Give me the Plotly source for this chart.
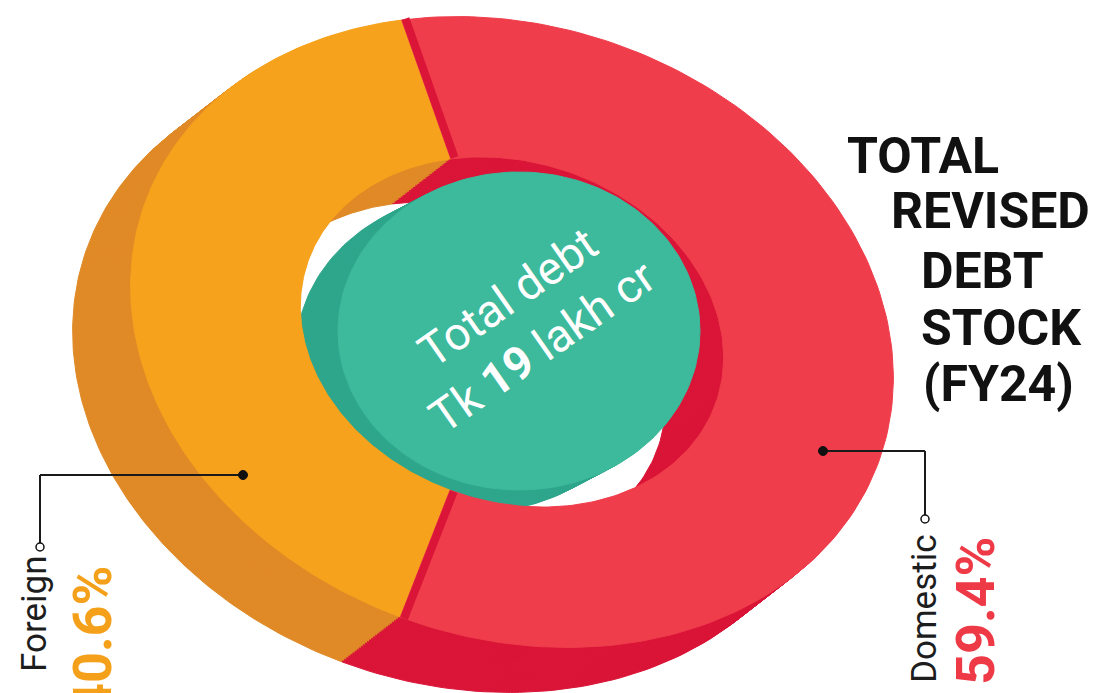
import numpy as np
import plotly.graph_objects as go

# ---- data -------------------------------------------------------------
categories = ["Foreign", "Domestic"]
shares = [40.6, 59.4]                 # share of total revised debt stock, %
total_debt = 19                       # Tk lakh crore
title_lines = ["TOTAL", "REVISED", "DEBT", "STOCK", "(FY24)"]

# ---- styling ----------------------------------------------------------
top_colors = ["#F6A21C", "#EF3D4B"]
side_colors = ["#E08A27", "#DA1538"]
label_colors = ["#F5A01A", "#EE3A46"]
teal_top, teal_side = "#3DB99B", "#2EA68C"
FONT = "Roboto, Liberation Sans, sans-serif"

W, H = 1094, 693
CX, CY = 512, 332           # ring centre (px)
RX, RY = 389, 306           # outer semi-axes of the top face
TILT = np.deg2rad(18.6)     # in-plane tilt of the ellipse
HOLE = 0.555                # inner / outer radius
DEPTH = np.array([-58.0, 45.0])   # extrusion of the ring (px)
START = np.deg2rad(92.2)    # where the first slice begins
N_LAYERS = 28


def ring_pt(r, th):
    x = RX * r * np.cos(th)
    y = RY * r * np.sin(th)
    return (CX + x * np.cos(TILT) - y * np.sin(TILT),
            CY + x * np.sin(TILT) + y * np.cos(TILT))


def sector(th0, th1, shift=(0.0, 0.0), n=160):
    t = np.linspace(th0, th1, n)
    xo, yo = ring_pt(1.0, t)
    xi, yi = ring_pt(HOLE, t[::-1])
    xs = np.concatenate([xo, xi, xo[:1]]) + shift[0]
    ys = np.concatenate([yo, yi, yo[:1]]) + shift[1]
    return xs, ys


def ellipse(cx, cy, a, b, rot_deg, n=200):
    t = np.linspace(0, 2 * np.pi, n)
    r = np.deg2rad(rot_deg)
    x, y = a * np.cos(t), b * np.sin(t)
    return cx + x * np.cos(r) - y * np.sin(r), cy + x * np.sin(r) + y * np.cos(r)


def poly(xs, ys, color):
    return go.Scatter(x=xs, y=ys, mode="lines", fill="toself", fillcolor=color,
                      line=dict(color=color, width=1), hoverinfo="skip",
                      showlegend=False)


# slice angles from the shares
fr = np.array(shares) / sum(shares)
edges = START + 2 * np.pi * np.concatenate([[0], np.cumsum(fr)])

fig = go.Figure()

# extruded side walls: stacked copies from the bottom face up
for k in range(N_LAYERS, 0, -1):
    off = DEPTH * k / N_LAYERS
    for i in range(len(shares)):
        xs, ys = sector(edges[i], edges[i + 1], off)
        fig.add_trace(poly(xs, ys, side_colors[i]))

# centre coin with its own thickness
TC = (519, 331)
TA, TB, TROT = 181, 159, 0
COIN_DEPTH = (-42, 22)
for k in range(12, 0, -1):
    xs, ys = ellipse(TC[0] + COIN_DEPTH[0] * k / 12, TC[1] + COIN_DEPTH[1] * k / 12,
                     TA, TB, TROT)
    fig.add_trace(poly(xs, ys, teal_side))
xs, ys = ellipse(TC[0], TC[1], TA, TB, TROT)
fig.add_trace(poly(xs, ys, teal_top))

# top faces
for i in range(len(shares)):
    xs, ys = sector(edges[i], edges[i + 1])
    fig.add_trace(poly(xs, ys, top_colors[i]))

# cut faces of the larger slice at both joins
for th, sgn in [(edges[1], 1), (edges[0] + 2 * np.pi, -1)]:
    xo, yo = ring_pt(1.0, th)
    xi, yi = ring_pt(HOLE, th)
    d = np.array([xi - xo, yi - yo])
    nrm = np.array([-d[1], d[0]]) / np.hypot(*d)
    tx, ty = ring_pt(0.8, th + sgn * 0.2)
    mx, my = ring_pt(0.8, th)
    if nrm @ np.array([tx - mx, ty - my]) < 0:
        nrm = -nrm
    s = nrm * 4
    fig.add_trace(go.Scatter(x=[xo + s[0], xi + s[0]], y=[yo + s[1], yi + s[1]],
                             mode="lines", line=dict(color=side_colors[1], width=8),
                             hoverinfo="skip", showlegend=False))

# leader lines
leaders = [
    [(243, 475), (40, 475), (40, 547)],
    [(823, 451), (925, 451), (925, 519)],
]
shapes = []
for p in leaders:
    for a, b in zip(p[:-1], p[1:]):
        shapes.append(dict(type="line", x0=a[0], y0=a[1], x1=b[0], y1=b[1],
                           line=dict(color="#1a1a1a", width=2)))
    shapes.append(dict(type="circle", x0=p[0][0] - 4.5, x1=p[0][0] + 4.5,
                       y0=p[0][1] - 4.5, y1=p[0][1] + 4.5,
                       fillcolor="#111", line=dict(color="#111", width=1)))
    shapes.append(dict(type="circle", x0=p[-1][0] - 4, x1=p[-1][0] + 4,
                       y0=p[-1][1] - 4, y1=p[-1][1] + 4,
                       fillcolor="white", line=dict(color="#111", width=1.5)))

annotations = []
# slice labels (rotated)
label_pos = [((34, 614), (92, 640)), ((924, 609), (975, 611))]
for i, cat in enumerate(categories):
    (nx, ny), (vx, vy) = label_pos[i]
    annotations.append(dict(x=nx, y=ny, text=cat, textangle=-90, showarrow=False,
                            font=dict(family=FONT, size=35, color="#1d1d1d")))
    annotations.append(dict(x=vx, y=vy, text=f"<b>{shares[i]:.1f}%</b>", textangle=-90,
                            showarrow=False,
                            font=dict(family=FONT, size=54, color=label_colors[i])))

# title block
title_pos = [(845, 156), (889, 211), (919, 271), (919, 328), (921, 384)]
for line, (tx, ty) in zip(title_lines, title_pos):
    annotations.append(dict(x=tx, y=ty, text=f"<b>{line}</b>", xanchor="left",
                            showarrow=False,
                            font=dict(family=FONT, size=50, color="#111111")))

# centre text
annotations.append(dict(x=525, y=322, textangle=-35, showarrow=False,
                        text=f"Total debt<br>Tk <b>{total_debt}</b> lakh cr",
                        font=dict(family=FONT, size=46, color="white")))

fig.update_layout(
    width=W, height=H, margin=dict(l=0, r=0, t=0, b=0),
    paper_bgcolor="white", plot_bgcolor="white",
    xaxis=dict(range=[0, W], visible=False, fixedrange=True),
    yaxis=dict(range=[H, 0], visible=False, fixedrange=True),
    shapes=shapes, annotations=annotations, showlegend=False,
)

fig.write_html("out.html")
